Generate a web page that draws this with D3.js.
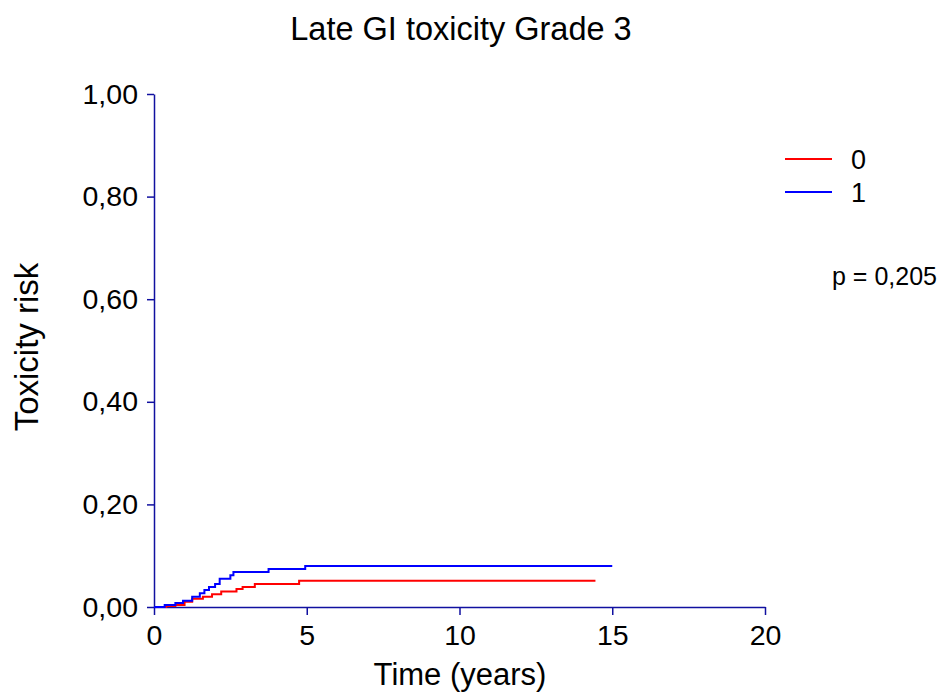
<!DOCTYPE html>
<html>
<head>
<meta charset="utf-8">
<script src="https://cdn.jsdelivr.net/npm/d3@7"></script>
<style>
  body { margin: 0; background: #fff; }
  text { font-family: Arial, "Liberation Sans", sans-serif; fill: #000; }
</style>
</head>
<body>
<div id="canvas"></div>
<script>
// step curves (time in years, cumulative risk)
const groups = ['0', '1']
const colors = ['#ff0000', '#0000ff']
const times0 = [0, 0.4, 0.7, 1.0, 1.25, 1.6, 1.9, 2.2, 2.7, 2.9, 3.3, 4.75, 14.45]
const risk0 = [0, 0.002, 0.004, 0.010, 0.016, 0.020, 0.025, 0.030, 0.035, 0.039, 0.045, 0.051, 0.051]
const times1 = [0, 0.35, 0.7, 0.95, 1.25, 1.5, 1.65, 1.8, 2.0, 2.15, 2.5, 2.6, 3.75, 4.95, 15.0]
const risk1 = [0, 0.004, 0.008, 0.012, 0.020, 0.027, 0.033, 0.039, 0.045, 0.055, 0.062, 0.068, 0.074, 0.080, 0.080]
const xTicks = [0, 5, 10, 15, 20]
const yTicks = [0, 0.2, 0.4, 0.6, 0.8, 1.0]
const pText = 'p = 0,205'

const width = 946
const height = 693
const margin = { left: 154, right: 181, top: 94, bottom: 86 }
const axisColor = '#1010a0'

const svg = d3.select('#canvas').append('svg')
  .attr('width', width)
  .attr('height', height)

const x = d3.scaleLinear().domain([0, 20]).range([margin.left, width - margin.right])
const y = d3.scaleLinear().domain([0, 1]).range([height - margin.bottom, margin.top])

const comma = d => d3.format('.2f')(d).replace('.', ',')

const xAxis = svg.append('g')
  .attr('transform', `translate(0,${y(0)})`)
  .call(d3.axisBottom(x).tickValues(xTicks).tickSize(8).tickSizeOuter(0).tickPadding(10))
const yAxis = svg.append('g')
  .attr('transform', `translate(${x(0)},0)`)
  .call(d3.axisLeft(y).tickValues(yTicks).tickFormat(comma).tickSize(7).tickSizeOuter(0).tickPadding(9))

;[xAxis, yAxis].forEach(a => {
  a.attr('font-size', null).attr('font-family', null)
  a.select('.domain').attr('stroke', axisColor).attr('stroke-width', 1.5)
  a.selectAll('.tick line').attr('stroke', axisColor).attr('stroke-width', 1.5)
  a.selectAll('.tick text').style('font-size', '28.5px').attr('fill', '#000')
})

const line = d3.line()
  .x(d => x(d[0]))
  .y(d => y(d[1]))
  .curve(d3.curveStepAfter)

const series = [d3.zip(times0, risk0), d3.zip(times1, risk1)]
series.forEach((s, i) => {
  svg.append('path')
    .datum(s)
    .attr('d', line)
    .attr('fill', 'none')
    .attr('stroke', colors[i])
    .attr('stroke-width', 2)
})

// title and axis labels
svg.append('text')
  .attr('x', 461).attr('y', 40)
  .attr('text-anchor', 'middle')
  .style('font-size', '32.5px')
  .text('Late GI toxicity Grade 3')

svg.append('text')
  .attr('x', 460).attr('y', 685)
  .attr('text-anchor', 'middle')
  .style('font-size', '31px')
  .text('Time (years)')

svg.append('text')
  .attr('transform', 'translate(38,347) rotate(-90)')
  .attr('text-anchor', 'middle')
  .style('font-size', '33px')
  .text('Toxicity risk')

// legend
groups.forEach((g, i) => {
  const ly = 159 + i * 33
  svg.append('line')
    .attr('x1', 785).attr('x2', 832)
    .attr('y1', ly).attr('y2', ly)
    .attr('stroke', colors[i])
    .attr('stroke-width', 2)
  svg.append('text')
    .attr('x', 851).attr('y', ly + 10)
    .style('font-size', '27px')
    .text(g)
})

svg.append('text')
  .attr('x', 832).attr('y', 285)
  .style('font-size', '25px')
  .text(pText)
</script>
</body>
</html>
